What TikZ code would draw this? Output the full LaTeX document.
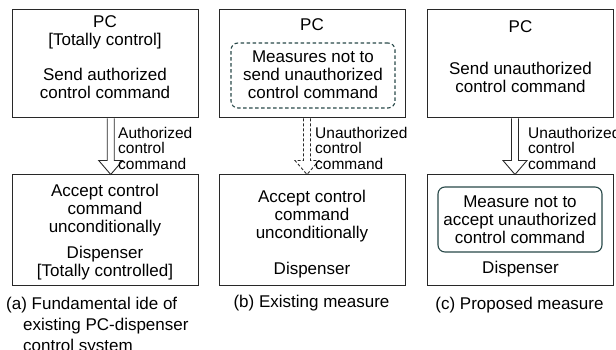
\documentclass[tikz,border=0pt]{standalone}
\usepackage{fontspec}
\setmainfont{Liberation Sans}
\usetikzlibrary{calc}

\definecolor{framegray}{RGB}{40,40,40}
\definecolor{innerteal}{RGB}{40,72,72}

\tikzset{
  panel/.style={draw=framegray, line width=1pt, minimum width=186pt, minimum height=108pt, inner sep=0pt},
  dispbox/.style={panel, minimum height=110pt},
  innerbox/.style={draw=innerteal, line width=1.1pt, rounded corners=7pt, minimum width=164pt, minimum height=65pt, inner sep=0pt},
  txt/.style={font=\fontsize{17}{18}\selectfont, align=center, inner sep=0pt},
  lbl/.style={font=\fontsize{15.5}{15.5}\selectfont, align=left, anchor=north west, inner sep=0pt},
  captext/.style={font=\fontsize{17}{21}\selectfont, align=left, inner sep=0pt},
  hollow/.style={draw=framegray, line width=0.9pt, line join=miter},
}

% hollow block arrow from the bottom of one box to the top of another
\newcommand{\hollowarrow}[4][]{%
  \draw[hollow,#1] let \p1=(#2.south), \p2=(#3.north) in
    (\x1+#4-3.5pt,\y1) -- (\x1+#4-3.5pt,\y2+14pt) -- (\x1+#4-12pt,\y2+14pt)
    -- (\x1+#4,\y2) -- (\x1+#4+12pt,\y2+14pt) -- (\x1+#4+3.5pt,\y2+14pt)
    -- (\x1+#4+3.5pt,\y1);
}

\begin{document}
\begin{tikzpicture}[x=1pt,y=-1pt]
  \useasboundingbox (0,0) rectangle (616,350);

  % (a) fundamental idea
  \node[panel] (pcA) at (105,64) {};
  \node[txt] (pcAhead) at (105,32) {PC\\{[Totally control]}};
  \node[txt] (pcAsend) at (105,83) {Send authorized\\control command};
  \node[dispbox] (dispA) at (105,230) {};
  \node[txt] (dispAacc) at (105,210.5) {Accept control\\command\\unconditionally};
  \node[txt] (dispAname) at (105,263.5) {Dispenser\\{[Totally controlled]}};
  \hollowarrow{pcA}{dispA}{5.7pt}
  \node[lbl] (cmdA) at (118,127) {Authorized\\control\\command};
  \node[captext, anchor=north west] (capA) at (6,296.5) {(a) Fundamental ide of\\\hspace*{1em}existing PC-dispenser\\\hspace*{1em}control system};

  % (b) existing measure
  \node[panel] (pcB) at (312,64) {};
  \node[txt] (pcBhead) at (312,25) {PC};
  \node[innerbox, dash pattern=on 3.5pt off 2.5pt] (notSend) at (313,75.5) {};
  \node[txt] (notSendtxt) at (313,75) {Measures not to\\send unauthorized\\control command};
  \node[dispbox] (dispB) at (312,230) {};
  \node[txt] (dispBacc) at (312,216.5) {Accept control\\command\\unconditionally};
  \node[txt] (dispBname) at (312,270) {Dispenser};
  \hollowarrow[dash pattern=on 3pt off 2pt]{pcB}{dispB}{-5pt}
  \node[lbl] (cmdB) at (315,127) {Unauthorized\\control\\command};
  \node[captext] (capB) at (311.5,303) {(b) Existing measure};

  % (c) proposed measure
  \node[panel] (pcC) at (520.5,64) {};
  \node[txt] (pcChead) at (520.5,27) {PC};
  \node[txt] (pcCsend) at (520.5,77.5) {Send unauthorized\\control command};
  \node[dispbox] (dispC) at (520.5,230) {};
  \node[innerbox] (notAccept) at (520,219.5) {};
  \node[txt] (notAccepttxt) at (520,220) {Measure not to\\accept unauthorized\\control command};
  \node[txt] (dispCname) at (520.5,269) {Dispenser};
  \hollowarrow{pcC}{dispC}{-5.5pt}
  \node[lbl] (cmdC) at (528,127) {Unauthorized\\control\\command};
  \node[captext] (capC) at (519.5,305) {(c) Proposed measure};
\end{tikzpicture}
\end{document}
